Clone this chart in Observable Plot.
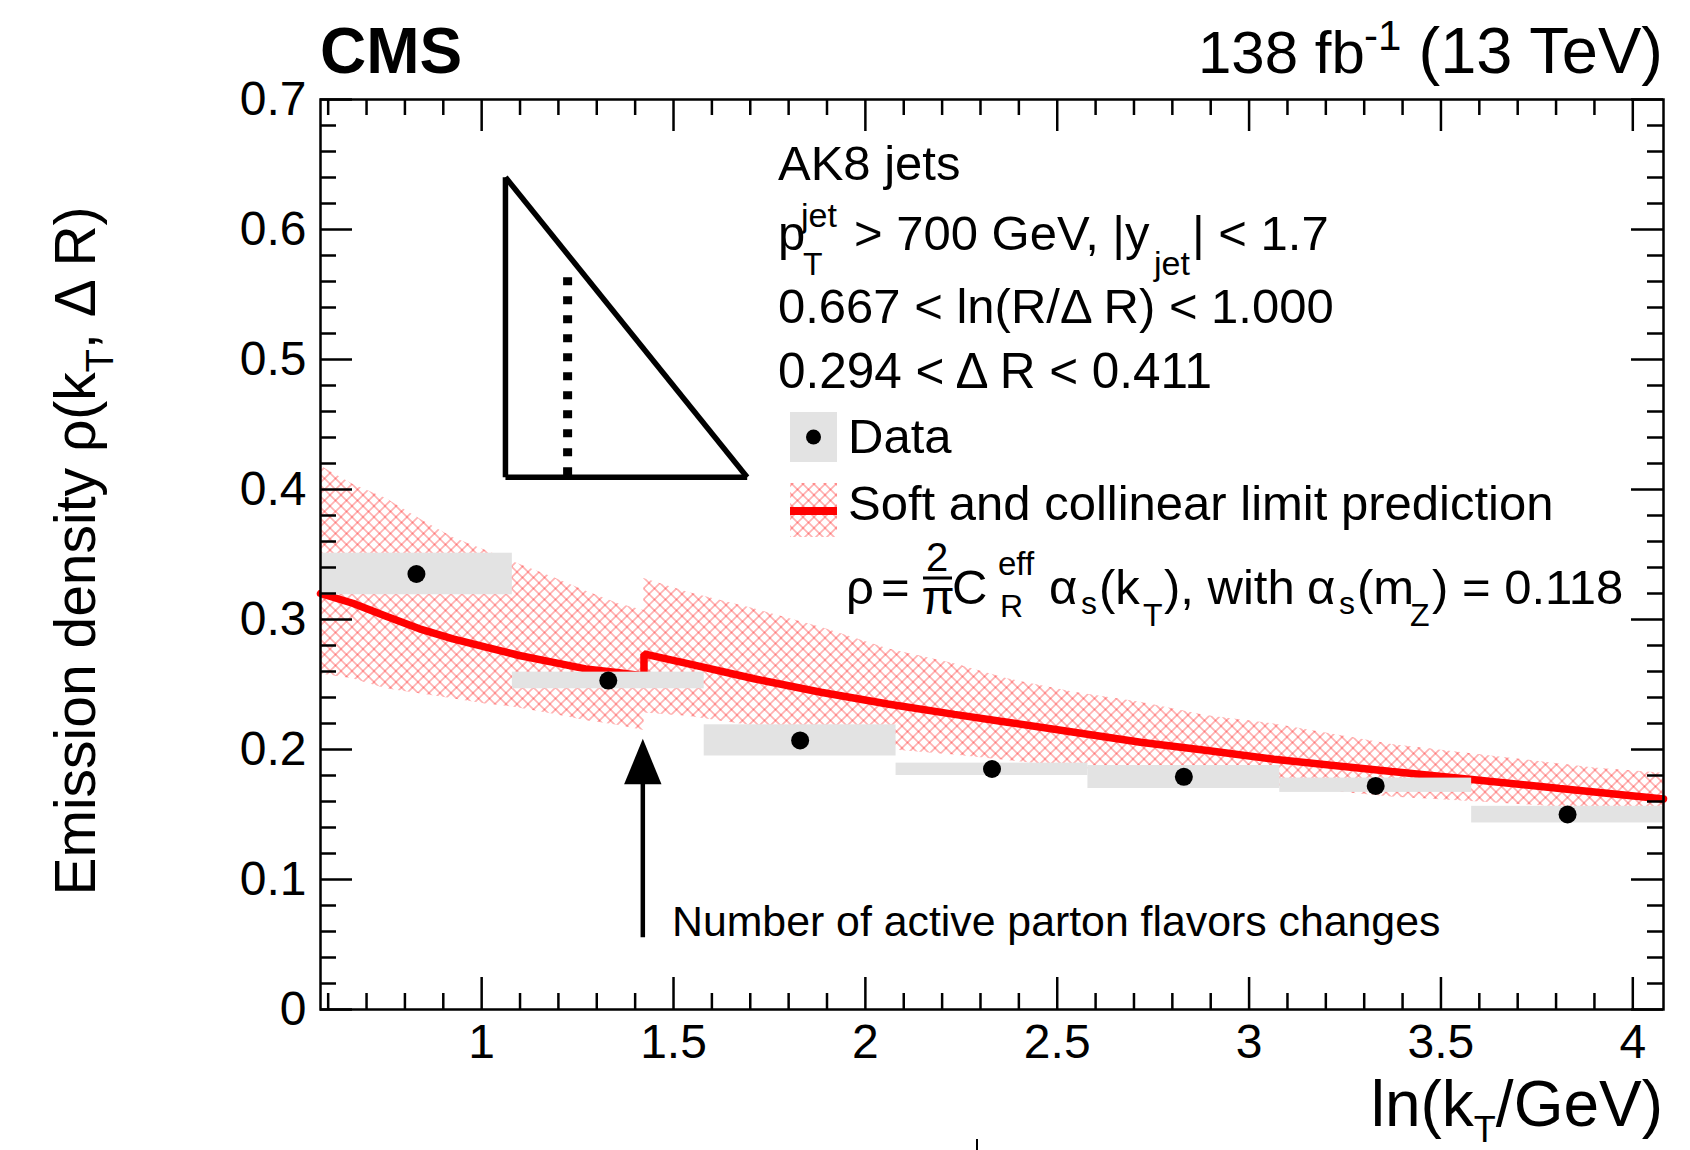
<!DOCTYPE html>
<html><head><meta charset="utf-8">
<script src="https://cdn.jsdelivr.net/npm/d3@7"></script>
<script src="https://cdn.jsdelivr.net/npm/@observablehq/plot@0.6"></script>
<style>
body{margin:0;background:#fff;}
#wrap{position:relative;width:1690px;height:1150px;overflow:hidden;background:#fff;font-family:"Liberation Sans",Arial,Helvetica,sans-serif;}
#wrap > svg{position:absolute;left:0;top:0;}
</style></head><body>
<svg width="0" height="0" style="position:absolute">
<defs><pattern id="hatch" patternUnits="userSpaceOnUse" width="11" height="11">
<path d="M0,0L11,11M-2,9L2,13M9,-2L13,2" stroke="rgba(255,0,0,0.3)" stroke-width="1.6" fill="none"/>
<path d="M0,11L11,0M-2,2L2,-2M9,13L13,9" stroke="rgba(255,0,0,0.3)" stroke-width="1.6" fill="none"/>
</pattern></defs></svg>
<div id="wrap"></div>
<script>
// ---- data ----
const binLow    = [0.58, 1.08, 1.58, 2.08, 2.58, 3.08, 3.58];
const binHigh   = [1.08, 1.58, 2.08, 2.58, 3.08, 3.58, 4.08];
const binCenter = [0.83, 1.33, 1.83, 2.33, 2.83, 3.33, 3.83];
const dataValue = [0.335, 0.253, 0.207, 0.185, 0.179, 0.172, 0.150];
const systLow   = [0.319, 0.2467, 0.195, 0.180, 0.170, 0.167, 0.1435];
const systHigh  = [0.351, 0.2595, 0.219, 0.1895, 0.1877, 0.178, 0.1563];

// soft and collinear prediction (two flavour regimes, threshold at ~1.423)
const predX = [0.58, 0.664, 0.751, 0.838, 0.925, 1.011, 1.098, 1.184, 1.271, 1.358, 1.423,
               1.423, 1.537, 1.71, 1.884, 2.058, 2.232, 2.37, 2.544, 2.717, 2.891, 3.065, 3.372, 3.587, 3.81, 4.08];
const predY = [0.320, 0.3125, 0.3025, 0.2928, 0.2851, 0.2787, 0.2723, 0.2672, 0.262, 0.259, 0.2565,
               0.2735, 0.266, 0.2544, 0.244, 0.235, 0.227, 0.221, 0.2133, 0.2056, 0.1992, 0.1925, 0.1830, 0.1768, 0.1700, 0.1620];

// uncertainty band
const bandSegment = ["a","a","a","a","a","a","a","a","a","a","a",
                     "b","b","b","b","b","b","b","b","b","b","b","b","b","b","b"];
const bandX    = [0.58, 0.664, 0.751, 0.838, 0.925, 1.011, 1.085, 1.184, 1.271, 1.358, 1.423,
                  1.423, 1.537, 1.71, 1.884, 2.058, 2.232, 2.37, 2.544, 2.717, 2.891, 3.065, 3.372, 3.636, 3.9, 4.08];
const bandHigh = [0.418, 0.404, 0.393, 0.3775, 0.363, 0.353, 0.344, 0.3326, 0.322, 0.312, 0.307,
                  0.3315, 0.321, 0.3082, 0.294, 0.2775, 0.266, 0.2544, 0.244, 0.2364, 0.226, 0.2197, 0.2039, 0.1949, 0.1857, 0.1818];
const bandLow  = [0.258, 0.2544, 0.2467, 0.2428, 0.239, 0.235, 0.2325, 0.2274, 0.2223, 0.2185, 0.2146,
                  0.228, 0.2255, 0.218, 0.209, 0.200, 0.1957, 0.1915, 0.186, 0.182, 0.177, 0.172, 0.1635, 0.159, 0.154, 0.151];

// schematic triangle inset (Lund-plane sketch), in axis units
const triX1 = [1.062, 1.062, 1.062];
const triY1 = [0.6402, 0.4095, 0.6402];
const triX2 = [1.062, 1.692, 1.692];
const triY2 = [0.4095, 0.4095, 0.4095];
const dotLineX = [1.224];
const dotLineTop = [0.5633];
const dotLineBottom = [0.4095];

// arrow marking the flavour threshold
const arrowX = [1.42];
const arrowTail = [0.0556];
const arrowTip = [0.2082];
const arrowHeadBase = [0.1736];

// ticks
const xMajor = [1, 1.5, 2, 2.5, 3, 3.5, 4];
const xMinor = [0.6, 0.7, 0.8, 0.9, 1.1, 1.2, 1.3, 1.4, 1.6, 1.7, 1.8, 1.9, 2.1, 2.2, 2.3, 2.4,
                2.6, 2.7, 2.8, 2.9, 3.1, 3.2, 3.3, 3.4, 3.6, 3.7, 3.8, 3.9, 4.0];
const yMajor = [0, 0.1, 0.2, 0.3, 0.4, 0.5, 0.6, 0.7];
const yMinor = [0.02, 0.04, 0.06, 0.08, 0.12, 0.14, 0.16, 0.18, 0.22, 0.24, 0.26, 0.28,
                0.32, 0.34, 0.36, 0.38, 0.42, 0.44, 0.46, 0.48, 0.52, 0.54, 0.56, 0.58,
                0.62, 0.64, 0.66, 0.68];
const xMinor2 = xMinor.filter(v => !xMajor.includes(v));

// ---- layout ----
const W = 1690, H = 1150, mL = 320, mR = 27, mT = 99, mB = 141;
const xDomain = [0.58, 4.08], yDomain = [0, 0.7];
const pxX = (W - mL - mR) / (xDomain[1] - xDomain[0]);
const pxY = (H - mT - mB) / (yDomain[1] - yDomain[0]);
const majLen = 32, minLen = 16;

const dataRows = binCenter.map((c, i) => ({c, v: dataValue[i], lo: binLow[i], hi: binHigh[i], sLo: systLow[i], sHi: systHigh[i]}));
const predRows = predX.map((x, i) => ({x, y: predY[i]}));
const bandRows = bandX.map((x, i) => ({x, lo: bandLow[i], hi: bandHigh[i], seg: bandSegment[i]}));
const triRows = triX1.map((x, i) => ({x1: x, y1: triY1[i], x2: triX2[i], y2: triY2[i]}));
const dotRows = dotLineX.map((x, i) => ({x, top: dotLineTop[i], bottom: dotLineBottom[i]}));
const arrowRows = arrowX.map((x, i) => ({x, tail: arrowTail[i], tip: arrowTip[i], base: arrowHeadBase[i]}));
const xTicks = [...xMajor.map(v => ({v, len: majLen})), ...xMinor2.map(v => ({v, len: minLen}))];
const yTicks = [...yMajor.map(v => ({v, len: majLen})), ...yMinor.map(v => ({v, len: minLen}))];

const arrowHead = {draw(ctx) { ctx.moveTo(0, 0); ctx.lineTo(-18.7, 45.5); ctx.lineTo(18.7, 45.5); ctx.closePath(); }};

const plot = Plot.plot({
  width: W, height: H,
  marginLeft: mL, marginRight: mR, marginTop: mT, marginBottom: mB,
  style: {fontFamily: '"Liberation Sans", Arial, Helvetica, sans-serif', fontSize: "48px", color: "black", background: "white"},
  x: {domain: xDomain},
  y: {domain: yDomain},
  marks: [
    Plot.areaY(bandRows, {x: "x", y1: "lo", y2: "hi", z: "seg", fill: "url(#hatch)", stroke: "none"}),
    Plot.line(predRows, {x: "x", y: "y", stroke: "#ff0000", strokeWidth: 7.5, strokeLinejoin: "miter"}),
    Plot.rect(dataRows, {x1: "lo", x2: "hi", y1: "sLo", y2: "sHi", fill: "#e3e3e3"}),
    Plot.dot(dataRows, {x: "c", y: "v", r: 9, fill: "black", stroke: "none"}),
    Plot.link(triRows, {x1: "x1", y1: "y1", x2: "x2", y2: "y2", stroke: "black", strokeWidth: 5.5}),
    Plot.link(dotRows, {x1: "x", y1: "top", x2: "x", y2: "bottom", stroke: "black", strokeWidth: 9, strokeDasharray: "8,11"}),
    Plot.link(arrowRows, {x1: "x", y1: "tail", x2: "x", y2: "base", stroke: "black", strokeWidth: 4.5}),
    Plot.dot(arrowRows, {x: "x", y: "tip", symbol: arrowHead, r: 10, fill: "black", stroke: "none"}),
    // ROOT-style inward ticks on all four sides
    Plot.ruleX(xTicks, {x: "v", y1: yDomain[0], y2: d => yDomain[0] + d.len / pxY, strokeWidth: 2.5}),
    Plot.ruleX(xTicks, {x: "v", y1: d => yDomain[1] - d.len / pxY, y2: yDomain[1], strokeWidth: 2.5}),
    Plot.ruleY(yTicks, {y: "v", x1: xDomain[0], x2: d => xDomain[0] + d.len / pxX, strokeWidth: 2.5}),
    Plot.ruleY(yTicks, {y: "v", x1: d => xDomain[1] - d.len / pxX, x2: xDomain[1], strokeWidth: 2.5}),
    Plot.frame({stroke: "black", strokeWidth: 2.5}),
    Plot.axisX(xMajor, {tickSize: 0, tickPadding: 14, fontSize: 48, label: null, tickFormat: d => String(d)}),
    Plot.axisY(yMajor, {tickSize: 0, tickPadding: 14, fontSize: 48, label: null, tickFormat: d => String(d)})
  ]
});
const wrap = document.getElementById("wrap");
wrap.appendChild(plot);

const overlay = `
<svg xmlns="http://www.w3.org/2000/svg" width="1690" height="1150" font-family='"Liberation Sans", Arial, Helvetica, sans-serif' fill="black">
  <text x="320" y="73" font-size="64" font-weight="bold">CMS</text>
  <text x="1198" y="73" font-size="60">138 fb</text>
  <text x="1364" y="50" font-size="42">-1</text>
  <text x="1663" y="73" font-size="65" text-anchor="end">(13 TeV)</text>

  <text transform="translate(95,551) rotate(-90)" text-anchor="middle" font-size="57">Emission density ρ(k<tspan font-size="38" dy="18">T</tspan><tspan dy="-18">, Δ R)</tspan></text>
  <text x="1663" y="1126" text-anchor="end" font-size="64">ln(k<tspan font-size="36" dy="16">T</tspan><tspan dy="-16">/GeV)</tspan></text>

  <text x="778" y="180" font-size="49">AK8 jets</text>
  <text x="778" y="250" font-size="49">p</text>
  <text x="801" y="227" font-size="34">jet</text>
  <text x="803" y="275" font-size="32">T</text>
  <text x="854" y="250" font-size="49">&gt; 700 GeV, |y</text>
  <text x="1154" y="275" font-size="34">jet</text>
  <text x="1192" y="250" font-size="49">| &lt; 1.7</text>
  <text x="778" y="323" font-size="49">0.667 &lt; ln(R/Δ R) &lt; 1.000</text>
  <text x="778" y="388" font-size="49.5">0.294 &lt; Δ R &lt; 0.411</text>

  <rect x="790" y="412" width="47" height="50" fill="#e3e3e3"/>
  <circle cx="813.5" cy="437" r="7.5" fill="black"/>
  <text x="848" y="453" font-size="49">Data</text>
  <rect x="790" y="483" width="47" height="54" fill="url(#hatch)"/>
  <rect x="790" y="507" width="47" height="8" fill="#ff0000"/>
  <text x="848" y="520" font-size="49">Soft and collinear limit prediction</text>

  <text x="846" y="604" font-size="49">ρ</text>
  <text x="881" y="604" font-size="49">=</text>
  <text x="937" y="571" font-size="40" text-anchor="middle">2</text>
  <line x1="923" x2="952" y1="578" y2="578" stroke="black" stroke-width="3"/>
  <text x="938" y="614" font-size="48" text-anchor="middle">π</text>
  <text x="952" y="604" font-size="49">C</text>
  <text x="998" y="575" font-size="33">eff</text>
  <text x="1000" y="617" font-size="32">R</text>
  <text x="1049" y="604" font-size="49">α</text>
  <text x="1081" y="614" font-size="32">s</text>
  <text x="1099" y="604" font-size="49">(k</text>
  <text x="1143" y="626" font-size="32">T</text>
  <text x="1164" y="604" font-size="49">), with</text>
  <text x="1307" y="604" font-size="49">α</text>
  <text x="1339" y="614" font-size="32">s</text>
  <text x="1357" y="604" font-size="49">(m</text>
  <text x="1410" y="626" font-size="32">Z</text>
  <text x="1432" y="604" font-size="49">) = 0.118</text>

  <text x="672" y="936" font-size="42.8">Number of active parton flavors changes</text>
  <line x1="977" x2="977" y1="1139" y2="1150" stroke="black" stroke-width="2"/>
</svg>`;
wrap.insertAdjacentHTML("beforeend", overlay);
</script>
</body></html>
